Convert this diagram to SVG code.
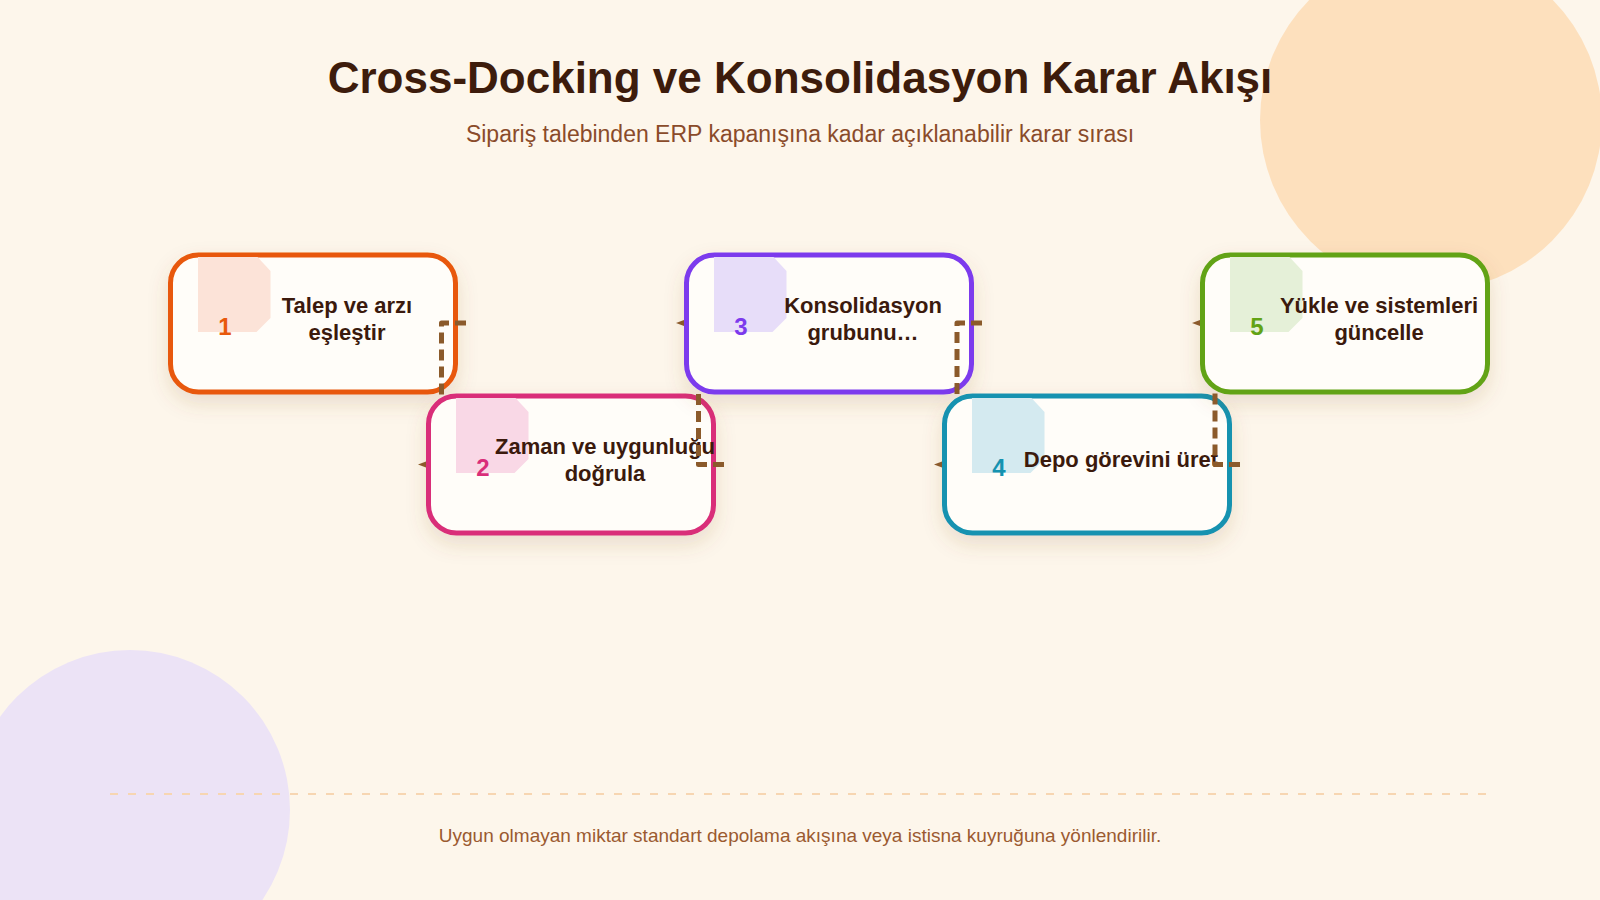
<svg xmlns="http://www.w3.org/2000/svg" width="1600" height="900" viewBox="0 0 1600 900">
  <style>
    .title { font-family: "Liberation Sans", Arial, sans-serif; font-size: 44px; font-weight: bold; fill: #3d1c0c; text-anchor: middle; }
    .sub { font-family: "Liberation Sans", Arial, sans-serif; font-size: 23px; fill: #8a4b2a; text-anchor: middle; }
    .foot { font-family: "Liberation Sans", Arial, sans-serif; font-size: 19px; fill: #9b5a30; text-anchor: middle; }
    .card { fill: #fffdf9; stroke-width: 5; filter: url(#shadow); }
    .num { font-family: "Liberation Sans", Arial, sans-serif; font-size: 24px; font-weight: bold; text-anchor: middle; }
    .lbl { font-family: "Liberation Sans", Arial, sans-serif; font-size: 22px; font-weight: bold; fill: #3b1a0d; text-anchor: middle; }
    .conn { fill: none; stroke: #8b5a2b; stroke-width: 5; stroke-dasharray: 11 6; stroke-linecap: butt; stroke-linejoin: round; }
  </style>
  <defs>
    <filter id="shadow" x="-20%" y="-20%" width="140%" height="150%">
      <feDropShadow dx="0" dy="9" stdDeviation="10" flood-color="#8a5a2b" flood-opacity="0.16"/>
    </filter>
    <marker id="arrow" markerUnits="userSpaceOnUse" markerWidth="10" markerHeight="8" refX="0" refY="3" orient="auto" overflow="visible">
      <path d="M0,0 L8,3 L0,6 Z" fill="#8b5a2b"/>
    </marker>
    <mask id="m2" maskUnits="userSpaceOnUse" x="0" y="0" width="1600" height="900">
      <rect width="1600" height="900" fill="#fff"/>
      <rect x="426" y="393.5" width="290" height="142" rx="30.5" fill="#000"/>
    </mask>
    <mask id="m3" maskUnits="userSpaceOnUse" x="0" y="0" width="1600" height="900">
      <rect width="1600" height="900" fill="#fff"/>
      <rect x="684" y="252.5" width="290" height="142" rx="30.5" fill="#000"/>
    </mask>
    <mask id="m4" maskUnits="userSpaceOnUse" x="0" y="0" width="1600" height="900">
      <rect width="1600" height="900" fill="#fff"/>
      <rect x="942" y="393.5" width="290" height="142" rx="30.5" fill="#000"/>
    </mask>
    <mask id="m5" maskUnits="userSpaceOnUse" x="0" y="0" width="1600" height="900">
      <rect width="1600" height="900" fill="#fff"/>
      <rect x="1200" y="252.5" width="290" height="142" rx="30.5" fill="#000"/>
    </mask>
  </defs>

  <rect width="1600" height="900" fill="#fdf6eb"/>
  <circle cx="1431" cy="120" r="171" fill="#fde0bd"/>
  <circle cx="130" cy="810" r="160" fill="#ece3f6"/>

  <text class="title" x="800" y="93">Cross-Docking ve Konsolidasyon Karar Akışı</text>
  <text class="sub" x="800" y="142">Sipariş talebinden ERP kapanışına kadar açıklanabilir karar sırası</text>

  <g id="nodes">
    <g id="node1" transform="translate(170.5,255)">
      <rect class="card" width="285" height="137" rx="28" stroke="#e8590c"/>
      <polygon points="27.5,2 87,2 100,16 100,63 86,77 27.5,77" fill="#fce3d8"/>
      <text class="num" x="54.5" y="80" fill="#e8590c">1</text>
      <text class="lbl" x="176.5" y="57.5">Talep ve arzı</text>
      <text class="lbl" x="176.5" y="85">eşleştir</text>
    </g>
    <g id="node2" transform="translate(428.5,396)">
      <rect class="card" width="285" height="137" rx="28" stroke="#d92d79"/>
      <polygon points="27.5,2 87,2 100,16 100,63 86,77 27.5,77" fill="#f9d8e6"/>
      <text class="num" x="54.5" y="80" fill="#d92d79">2</text>
      <text class="lbl" x="176.5" y="57.5">Zaman ve uygunluğu</text>
      <text class="lbl" x="176.5" y="85">doğrula</text>
    </g>
    <g id="node3" transform="translate(686.5,255)">
      <rect class="card" width="285" height="137" rx="28" stroke="#7c3aed"/>
      <polygon points="27.5,2 87,2 100,16 100,63 86,77 27.5,77" fill="#e7ddf9"/>
      <text class="num" x="54.5" y="80" fill="#7c3aed">3</text>
      <text class="lbl" x="176.5" y="57.5">Konsolidasyon</text>
      <text class="lbl" x="176.5" y="85">grubunu…</text>
    </g>
    <g id="node4" transform="translate(944.5,396)">
      <rect class="card" width="285" height="137" rx="28" stroke="#1592b0"/>
      <polygon points="27.5,2 87,2 100,16 100,63 86,77 27.5,77" fill="#d4eaf0"/>
      <text class="num" x="54.5" y="80" fill="#1592b0">4</text>
      <text class="lbl" x="176.5" y="71">Depo görevini üret</text>
    </g>
    <g id="node5" transform="translate(1202.5,255)">
      <rect class="card" width="285" height="137" rx="28" stroke="#62a315"/>
      <polygon points="27.5,2 87,2 100,16 100,63 86,77 27.5,77" fill="#e5f0d8"/>
      <text class="num" x="54.5" y="80" fill="#62a315">5</text>
      <text class="lbl" x="176.5" y="57.5">Yükle ve sistemleri</text>
      <text class="lbl" x="176.5" y="85">güncelle</text>
    </g>
  </g>

  <g id="connectors">
    <path class="conn" mask="url(#m2)" marker-end="url(#arrow)" d="M466,323 H441.5 V464.5 H426"/>
    <path class="conn" mask="url(#m3)" marker-end="url(#arrow)" d="M724,464.5 H698.5 V323 H684"/>
    <path class="conn" mask="url(#m4)" marker-end="url(#arrow)" d="M982,323 H957 V464.5 H942"/>
    <path class="conn" mask="url(#m5)" marker-end="url(#arrow)" d="M1240,464.5 H1215 V323 H1200"/>
  </g>

  <line x1="110" y1="794" x2="1490" y2="794" stroke="#f7d6b2" stroke-width="2" stroke-dasharray="8 10"/>
  <text class="foot" x="800" y="842">Uygun olmayan miktar standart depolama akışına veya istisna kuyruğuna yönlendirilir.</text>
</svg>
